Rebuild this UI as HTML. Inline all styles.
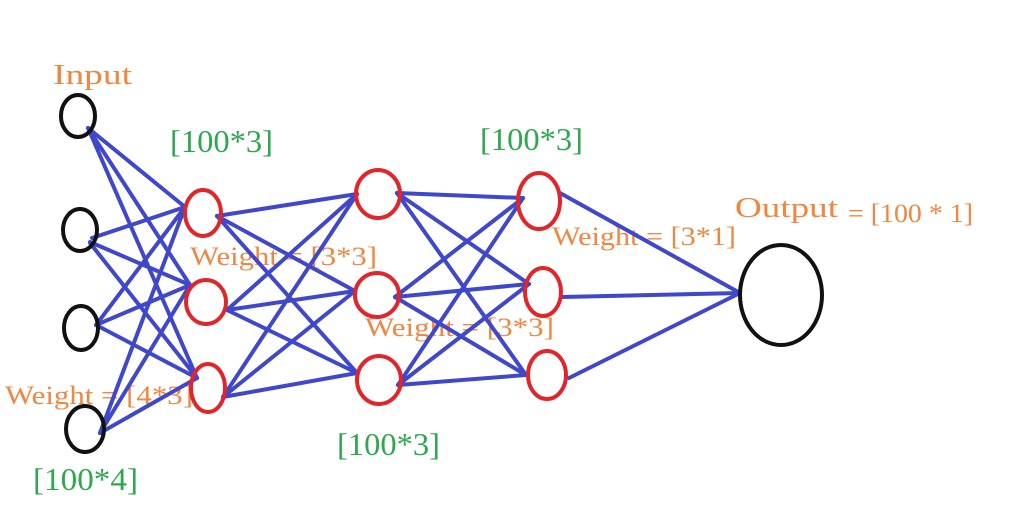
<!DOCTYPE html>
<html><head><meta charset="utf-8"><style>
html,body{margin:0;padding:0;background:#fff;}
svg{display:block;}
text{font-family:"Liberation Serif",serif;}
.o{fill:#F0863F;}
.g{fill:#2EA84E;}
</style></head><body>
<svg width="1024" height="532" viewBox="0 0 1024 532" xmlns="http://www.w3.org/2000/svg">
<rect width="1024" height="532" fill="#fff"/>
<text x="53" y="84" font-size="28" class="o" textLength="79" lengthAdjust="spacingAndGlyphs">Input</text>
<text x="170" y="152" font-size="32" class="g" textLength="103" lengthAdjust="spacingAndGlyphs">[100*3]</text>
<text x="480" y="150" font-size="32" class="g" textLength="103" lengthAdjust="spacingAndGlyphs">[100*3]</text>
<text x="337" y="455" font-size="32" class="g" textLength="103" lengthAdjust="spacingAndGlyphs">[100*3]</text>
<text x="33" y="490" font-size="32" class="g" textLength="105" lengthAdjust="spacingAndGlyphs">[100*4]</text>
<text x="190" y="265" font-size="26" class="o" textLength="187" lengthAdjust="spacingAndGlyphs">Weight = [3*3]</text>
<text x="365" y="336" font-size="26" class="o" textLength="189" lengthAdjust="spacingAndGlyphs">Weight = [3*3]</text>
<text x="5" y="404" font-size="26" class="o" textLength="188" lengthAdjust="spacingAndGlyphs">Weight = [4*3]</text>
<text x="552" y="245" font-size="26" class="o" textLength="184" lengthAdjust="spacingAndGlyphs">Weight = [3*1]</text>
<text x="735" y="217" font-size="29" class="o" textLength="103" lengthAdjust="spacingAndGlyphs">Output</text>
<text x="848" y="222" font-size="26" class="o" textLength="125" lengthAdjust="spacingAndGlyphs">= [100 * 1]</text>
<g stroke="#3F48CC" stroke-width="4" stroke-linecap="round">
<line x1="88" y1="128" x2="185" y2="207"/><line x1="88" y1="128" x2="190" y2="285"/><line x1="88" y1="128" x2="197" y2="378"/>
<line x1="92" y1="238" x2="185" y2="207"/><line x1="90" y1="242" x2="190" y2="285"/><line x1="90" y1="243" x2="197" y2="378"/>
<line x1="96" y1="325" x2="185" y2="207"/><line x1="96" y1="325" x2="190" y2="285"/><line x1="96" y1="325" x2="197" y2="378"/>
<line x1="100" y1="433" x2="185" y2="207"/><line x1="100" y1="433" x2="190" y2="285"/><line x1="100" y1="433" x2="197" y2="378"/>
<line x1="217" y1="216" x2="357" y2="194"/><line x1="217" y1="216" x2="355" y2="291"/><line x1="217" y1="216" x2="357" y2="373"/>
<line x1="227" y1="310" x2="357" y2="194"/><line x1="227" y1="310" x2="355" y2="291"/><line x1="227" y1="310" x2="357" y2="373"/>
<line x1="223" y1="397" x2="357" y2="194"/><line x1="223" y1="397" x2="355" y2="291"/><line x1="223" y1="397" x2="357" y2="373"/>
<line x1="397" y1="193" x2="523" y2="198"/><line x1="397" y1="193" x2="529" y2="284"/><line x1="397" y1="193" x2="526" y2="375"/>
<line x1="395" y1="297" x2="523" y2="198"/><line x1="395" y1="297" x2="529" y2="284"/><line x1="395" y1="297" x2="526" y2="375"/>
<line x1="398" y1="385" x2="523" y2="198"/><line x1="398" y1="385" x2="529" y2="284"/><line x1="398" y1="385" x2="526" y2="375"/>
<line x1="560" y1="193" x2="740" y2="293"/><line x1="562" y1="297" x2="740" y2="293"/><line x1="569" y1="378" x2="740" y2="293"/>
</g>
<g fill="none" stroke="#111" stroke-width="4">
<ellipse cx="78" cy="116" rx="17" ry="21"/>
<ellipse cx="80" cy="230" rx="17" ry="21"/>
<ellipse cx="81" cy="328" rx="17" ry="22"/>
<ellipse cx="85" cy="429" rx="19" ry="23"/>
<ellipse cx="781" cy="295" rx="41" ry="50"/>
</g>
<g fill="none" stroke="#E0252B" stroke-width="4">
<ellipse cx="203" cy="213" rx="18" ry="23"/>
<ellipse cx="206" cy="302" rx="20" ry="22"/>
<ellipse cx="208" cy="388" rx="17" ry="24"/>
<ellipse cx="378" cy="194" rx="22" ry="24"/>
<ellipse cx="377" cy="295" rx="22" ry="22"/>
<ellipse cx="379" cy="380" rx="22" ry="24"/>
<ellipse cx="539" cy="201" rx="21" ry="28"/>
<ellipse cx="543" cy="292" rx="18" ry="24"/>
<ellipse cx="547" cy="375" rx="19" ry="24"/>
</g>
</svg>
</body></html>
